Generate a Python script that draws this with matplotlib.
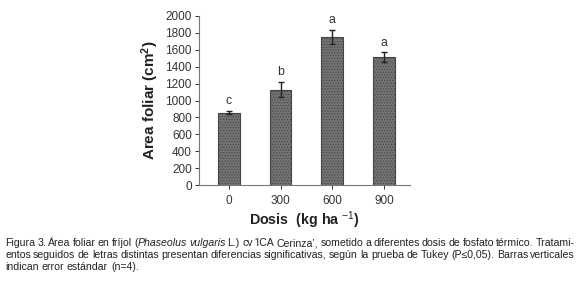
import matplotlib
matplotlib.use("Agg")
import matplotlib.pyplot as plt

plt.rcParams['font.family'] = ['Liberation Sans', 'DejaVu Sans']
plt.rcParams['mathtext.fontset'] = 'custom'
plt.rcParams['mathtext.rm'] = 'Liberation Sans'
plt.rcParams['mathtext.bf'] = 'Liberation Sans:bold'
plt.rcParams['mathtext.it'] = 'Liberation Sans:italic'
plt.rcParams['hatch.color'] = '#858585'
plt.rcParams['hatch.linewidth'] = 0.5

doses = ['0', '300', '600', '900']
area = [855, 1130, 1750, 1515]
err = [18, 90, 85, 55]
letters = ['c', 'b', 'a', 'a']
yticks = [0, 200, 400, 600, 800, 1000, 1200, 1400, 1600, 1800, 2000]

caption_lines = [
    [("Figura 3. Área foliar en fríjol (", 'normal'), ("Phaseolus vulgaris", 'italic'),
     (" L.) cv ‘ICA Cerinza’, sometido a diferentes dosis de fosfato térmico. Tratami-", 'normal')],
    [("entos seguidos de letras distintas presentan diferencias significativas, según la prueba de Tukey (P≤0,05). Barras verticales", 'normal')],
    [("indican error estándar (n=4).", 'normal')],
]

W, H = 580, 282
fig = plt.figure(figsize=(W / 100, H / 100), dpi=100)
ax = fig.add_axes([198.7 / W, 1 - 185 / H, (410 - 198.7) / W, (185 - 16) / H])

x = list(range(len(doses)))
ax.bar(x, area, width=0.42, color='#737373', edgecolor='#444444', linewidth=0.8,
       hatch='......', zorder=2)
ax.errorbar(x, area, yerr=err, fmt='none', ecolor='#222222', elinewidth=1,
            capsize=2.5, capthick=1, zorder=3)
for xi, v, e, l in zip(x, area, err, letters):
    ax.text(xi, v + e + 45, l, ha='center', va='bottom', fontsize=8.8, color='#333333')

ax.set_xlim(-0.58, 3.5)
ax.set_ylim(0, 2000)
ax.set_yticks(yticks)
ax.set_xticks(x)
ax.set_xticklabels(doses)
for s in ['top', 'right']:
    ax.spines[s].set_visible(False)
for s in ['left', 'bottom']:
    ax.spines[s].set_color('#777777')
    ax.spines[s].set_linewidth(0.8)
ax.tick_params(axis='both', labelsize=8.5, colors='#333333', length=3, width=0.7,
               direction='out', pad=2)
ax.tick_params(axis='x', pad=4)
ax.set_ylabel('Area foliar (cm$^{\\mathbf{2}}$)', fontsize=11, fontweight='bold',
              color='#222222', labelpad=3)
ax.set_xlabel('Dosis  (kg ha $^{-1}$)', fontsize=10.3, fontweight='bold',
              color='#222222', labelpad=2)

# caption, justified word-by-word
fig.canvas.draw()
renderer = fig.canvas.get_renderer()
left_px, right_px = 5, 575
ys = [246, 258, 270]
fs = 7.55
t1 = fig.text(0, 0, 'a a', fontsize=fs)
t2 = fig.text(0, 0, 'aa', fontsize=fs)
space = t1.get_window_extent(renderer).width - t2.get_window_extent(renderer).width
t1.remove()
t2.remove()
for li, (segs, ypx) in enumerate(zip(caption_lines, ys)):
    groups = []
    for txt, style in segs:
        parts = txt.split(' ')
        for pi, p in enumerate(parts):
            if p == '':
                continue
            attach = (pi == 0 and not txt.startswith(' ') and len(groups) > 0)
            if attach:
                groups[-1].append((p, style))
            else:
                groups.append([(p, style)])
    tmp = []
    widths = []
    for g in groups:
        gw = 0
        gi = []
        for w, style in g:
            t = fig.text(0, 0, w, fontsize=fs, style=style, color='#222222',
                         va='baseline')
            bb = t.get_window_extent(renderer)
            gi.append((t, bb.width))
            gw += bb.width
        tmp.append(gi)
        widths.append(gw)
    total = sum(widths)
    n = len(groups)
    if li < 2 and n > 1:
        gap = (right_px - left_px - total) / (n - 1)
    else:
        gap = space
    cur = left_px
    for gi, gw in zip(tmp, widths):
        cx = cur
        for t, wdt in gi:
            t.set_position((cx / W, 1 - ypx / H))
            cx += wdt
        cur += gw + gap

fig.savefig('out.png', dpi=100)
